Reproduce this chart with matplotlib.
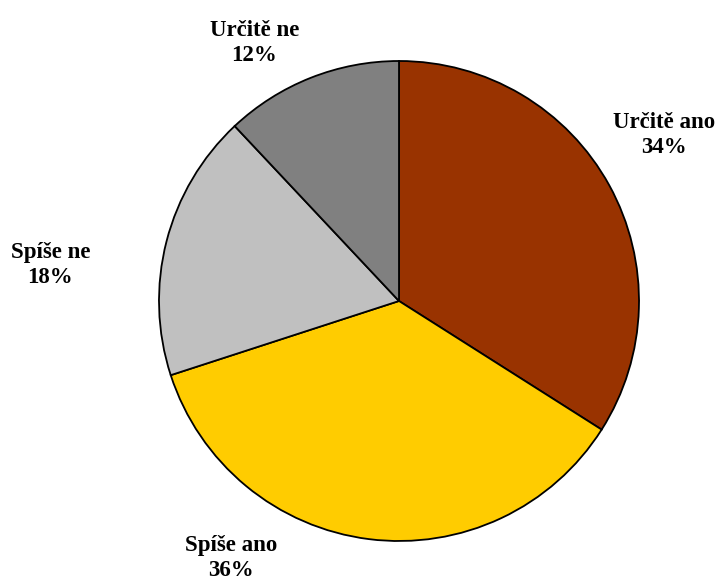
import matplotlib
matplotlib.use("Agg")
import matplotlib.pyplot as plt

categories = ["Určitě ano", "Spíše ano", "Spíše ne", "Určitě ne"]
shares = [34, 36, 18, 12]
colors = ["#993300", "#FFCC00", "#C0C0C0", "#808080"]

# label centres in data units (pie radius = 1)
label_pos = [(1.104, 0.69), (-0.70, -1.07), (-1.453, 0.15), (-0.603, 1.075)]

fig = plt.figure(figsize=(7.21, 5.81), dpi=100)
ax = fig.add_axes([0, 0, 1, 1])

ax.pie(shares, colors=colors, startangle=90, counterclock=False,
       radius=1.0, center=(0, 0),
       wedgeprops=dict(edgecolor="black", linewidth=1.3))

for name, val, (lx, ly) in zip(categories, shares, label_pos):
    ax.text(lx, ly, f"{name}\n{val}%", ha="center", va="center",
            fontsize=16.5, fontweight="bold", family="Liberation Serif",
            linespacing=1.25)

ax.set_xlim(-399 / 240, 322 / 240)
ax.set_ylim(-280 / 240, 301 / 240)
ax.set_aspect("equal")
ax.axis("off")

fig.savefig("out.png", dpi=100, facecolor="white")
